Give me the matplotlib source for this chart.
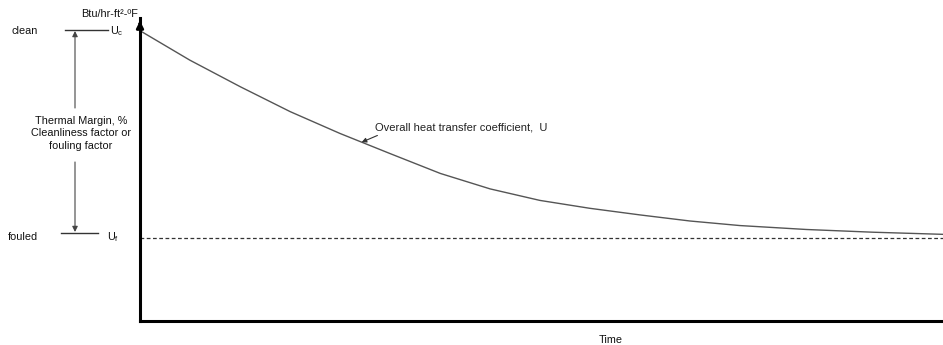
import matplotlib
matplotlib.use("Agg")
import matplotlib.pyplot as plt

plt.rcParams['font.family'] = ['Liberation Sans', 'DejaVu Sans']

# Data (time in arbitrary units, U in % of axis height)
time = [0.02, 0.62, 1.25, 1.87, 2.49, 3.11, 3.74, 4.36, 4.98, 5.60, 6.23,
        6.85, 7.47, 8.30, 9.13, 10.0]
U = [95.5, 86.1, 77.3, 69.1, 61.9, 55.3, 48.7, 43.6, 39.8, 37.2, 35.0,
     33.0, 31.5, 30.2, 29.3, 28.6]
U_fouled = 27.4

W, H = 943, 345
fig = plt.figure(figsize=(W / 100, H / 100), dpi=100)

# main axes
ax = fig.add_axes([140 / W, (H - 321) / H, (W - 140) / W, (321 - 18) / H])
ax.set_xlim(0, 10)
ax.set_ylim(0, 100)
ax.plot(time, U, color='#555555', lw=1.0)
ax.axhline(U_fouled, color='#333333', lw=0.9, ls=(0, (3, 2)))
for s in ['top', 'right']:
    ax.spines[s].set_visible(False)
ax.spines['left'].set_linewidth(2.2)
ax.spines['bottom'].set_linewidth(2.2)
ax.set_xticks([])
ax.set_yticks([])
ax.annotate('', xy=(0, 100), xytext=(0, 97), xycoords='data',
            arrowprops=dict(arrowstyle='-|>', color='black', lw=2, mutation_scale=10),
            annotation_clip=False)
ax.annotate('Overall heat transfer coefficient,  U', xy=(2.76, 59.0), xytext=(2.93, 63.8),
            fontsize=8, color='#222222', va='center', ha='left',
            arrowprops=dict(arrowstyle='-|>', color='#333333', lw=0.8, mutation_scale=7,
                            shrinkA=0, shrinkB=0, relpos=(0.05, 0.0)))

# overlay for annotations in pixel coordinates
ov = fig.add_axes([0, 0, 1, 1], facecolor='none')
ov.set_xlim(0, W)
ov.set_ylim(H, 0)
ov.axis('off')

fs = 7.8
ov.text(110, 14, 'Btu/hr-ft²-ºF', fontsize=fs, ha='center', va='center', color='#111111')
ov.text(12, 31, 'clean', fontsize=fs, ha='left', va='center', color='#111111')
ov.plot([65, 108], [30, 30], color='#333333', lw=1.0)
ov.text(110, 31, r'U$_\mathregular{c}$', fontsize=fs, ha='left', va='center', color='#111111')
ov.text(8, 237, 'fouled', fontsize=fs, ha='left', va='center', color='#111111')
ov.plot([61, 98], [233, 233], color='#333333', lw=1.0)
ov.text(107, 237, r'U$_\mathregular{f}$', fontsize=fs, ha='left', va='center', color='#111111')

ov.annotate('', xy=(75, 31), xytext=(75, 108),
            arrowprops=dict(arrowstyle='-|>', color='#444444', lw=0.8, mutation_scale=8,
                            shrinkA=0, shrinkB=0))
ov.annotate('', xy=(75, 232), xytext=(75, 162),
            arrowprops=dict(arrowstyle='-|>', color='#444444', lw=0.8, mutation_scale=8,
                            shrinkA=0, shrinkB=0))
ov.text(81, 121, 'Thermal Margin, %', fontsize=fs, ha='center', va='center', color='#111111')
ov.text(81, 133.5, 'Cleanliness factor or', fontsize=fs, ha='center', va='center', color='#111111')
ov.text(81, 146, 'fouling factor', fontsize=fs, ha='center', va='center', color='#111111')

ov.text(611, 340, 'Time', fontsize=fs, ha='center', va='center', color='#111111')

fig.savefig('out.png', dpi=100)
